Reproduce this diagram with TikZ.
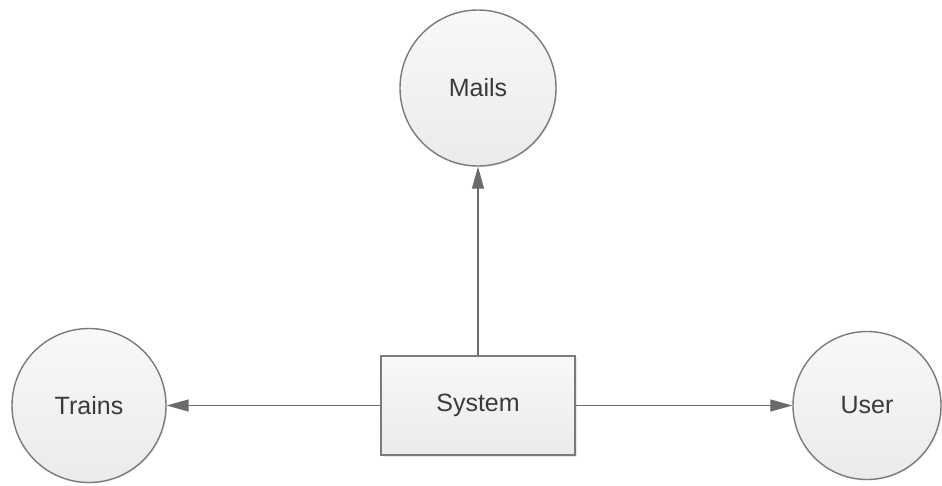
\documentclass[tikz,border=0pt]{standalone}
\usepackage{fontspec}
\setmainfont{Liberation Sans}
\usetikzlibrary{arrows.meta,shadows}
\definecolor{edgegray}{HTML}{7A7A7A}
\definecolor{linegray}{HTML}{6A6A6A}
\definecolor{textgray}{HTML}{3A3A3A}
\definecolor{filltop}{HTML}{F8F8F8}
\definecolor{fillbot}{HTML}{EBEBEB}
\tikzset{
  entity/.style={circle, draw=edgegray, line width=1.4pt,
    top color=filltop, bottom color=fillbot,
    drop shadow={opacity=0.12, shadow xshift=1.2pt, shadow yshift=-1.2pt},
    text=textgray, font=\fontsize{25}{30}\selectfont, inner sep=0pt},
  process/.style={rectangle, draw=edgegray, line width=1.6pt,
    top color=filltop, bottom color=fillbot,
    drop shadow={opacity=0.18, shadow xshift=1.8pt, shadow yshift=-1.8pt},
    text=textgray, font=\fontsize{25}{30}\selectfont,
    minimum width=194pt, minimum height=99pt, inner sep=0pt},
  flow/.style={draw=linegray, line width=1.3pt,
    -{Triangle[length=22pt, width=12pt]}}
}
\begin{document}
\begin{tikzpicture}[x=1pt, y=-1pt]
  \useasboundingbox (0,0) rectangle (942,485);
  \node[process] (sys) at (478,405.5) {System};
  \node[entity, minimum size=156pt] (mails) at (478,88) {Mails};
  \node[entity, minimum size=154pt] (trains) at (89,405.5) {Trains};
  \node[entity, minimum size=148pt] (user) at (867,405.5) {User};
  \draw[flow] (sys) -- (mails);
  \draw[flow] (sys) -- (trains);
  \draw[flow] (sys) -- (user);
\end{tikzpicture}
\end{document}
